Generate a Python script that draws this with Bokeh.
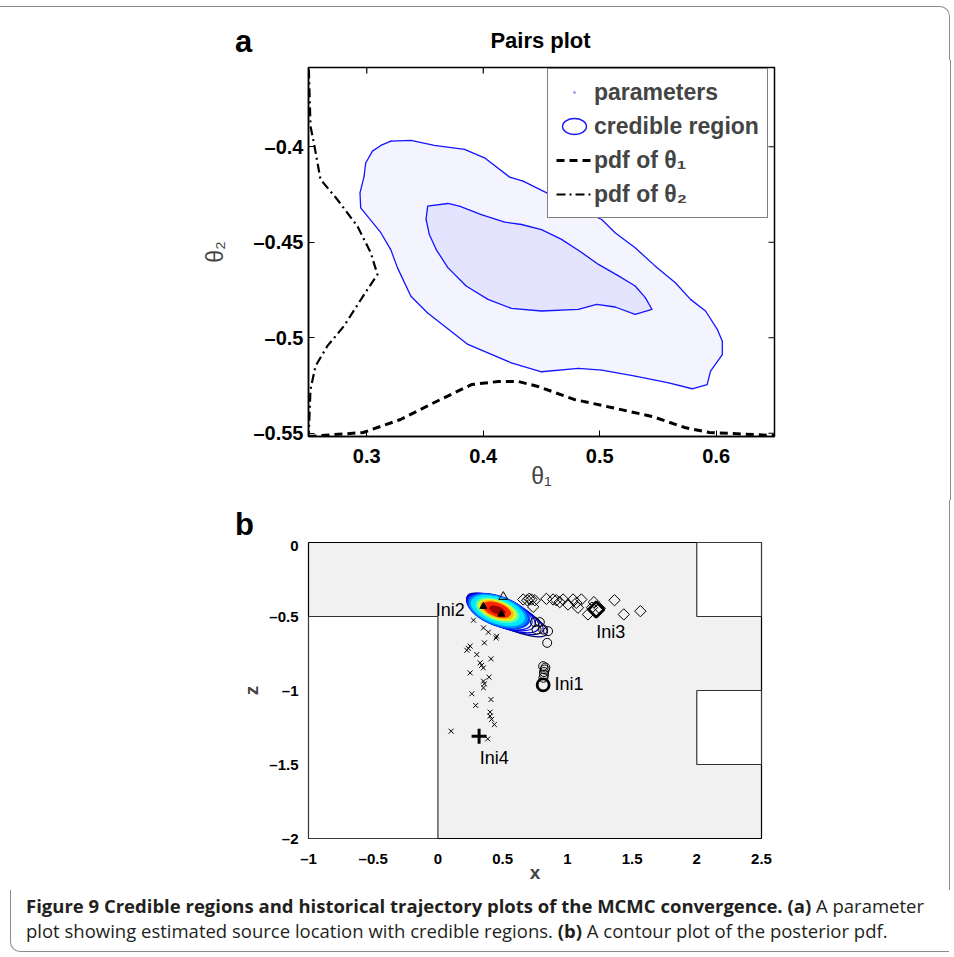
from bokeh.plotting import figure
from bokeh.models import FixedTicker, Legend, LegendItem, Div, Spacer
from bokeh.layouts import column, row
from bokeh.embed import file_html
from bokeh.resources import INLINE
from bokeh.core.properties import value

# ---------------- panel a : data ----------------
a_xrange = (0.25, 0.65)
a_yrange = (-0.5517, -0.3585)
a_xticks = [0.3, 0.4, 0.5, 0.6]
a_xtick_labels = ["0.3", "0.4", "0.5", "0.6"]
a_yticks = [-0.55, -0.5, -0.45, -0.4]
a_ytick_labels = ["\u20130.55", "\u20130.5", "\u20130.45", "\u20130.4"]

outer_t1 = [0.3207, 0.3379, 0.358, 0.3839, 0.4011, 0.4227, 0.4342, 0.4558, 0.473, 0.5017,
            0.5132, 0.5304, 0.5477, 0.5649, 0.5779, 0.5908, 0.6009, 0.6052, 0.6052, 0.5951,
            0.5922, 0.5793, 0.5592, 0.5304, 0.5017, 0.4816, 0.45, 0.4241, 0.3868, 0.3523,
            0.3379, 0.3264, 0.3207, 0.3121, 0.2948, 0.2942, 0.2977, 0.2991, 0.3049, 0.3121]
outer_t2 = [-0.3971, -0.3967, -0.3993, -0.4014, -0.4058, -0.4159, -0.418, -0.4245, -0.4302, -0.4381,
            -0.4450, -0.4529, -0.4625, -0.4712, -0.4799, -0.4860, -0.4956, -0.5018, -0.5088, -0.5175,
            -0.5245, -0.5267, -0.5236, -0.5201, -0.5169, -0.5160, -0.5178, -0.5131, -0.5035, -0.4870,
            -0.4783, -0.4634, -0.4540, -0.4450, -0.4320, -0.4241, -0.4155, -0.4085, -0.4023, -0.3993]

inner_t1 = [0.3523, 0.3696, 0.3796, 0.3983, 0.4184, 0.4328, 0.45, 0.4672, 0.4845, 0.4989,
            0.5161, 0.5304, 0.5391, 0.5448, 0.5304, 0.5132, 0.4974, 0.4816, 0.45, 0.4241,
            0.404, 0.3853, 0.3696, 0.3595, 0.3537, 0.3509]
inner_t2 = [-0.4311, -0.4297, -0.4311, -0.4355, -0.4395, -0.4407, -0.4434, -0.4485, -0.4554, -0.4616,
            -0.4676, -0.4729, -0.4790, -0.4851, -0.4877, -0.4839, -0.4825, -0.4851, -0.4860, -0.4846,
            -0.4799, -0.4729, -0.4633, -0.4537, -0.4459, -0.4380]

pdf1_t1 = [0.25, 0.297, 0.329, 0.358, 0.390, 0.413, 0.430, 0.447, 0.478, 0.510, 0.545, 0.573, 0.594, 0.651]
pdf1_t2 = [-0.5517, -0.5496, -0.5428, -0.5339, -0.5245, -0.5229, -0.5229, -0.5255, -0.5323, -0.5365,
           -0.5412, -0.5470, -0.5496, -0.5512]

pdf2_t1 = [0.2503, 0.2517, 0.2546, 0.2603, 0.2747, 0.292, 0.3034, 0.3092, 0.3006, 0.2804,
           0.2661, 0.256, 0.2517, 0.2503, 0.25]
pdf2_t2 = [-0.3595, -0.3892, -0.3979, -0.4171, -0.4276, -0.4416, -0.4555, -0.4669, -0.4747, -0.4939,
           -0.5044, -0.5149, -0.5271, -0.5496, -0.5517]

legend_labels = ["parameters", "credible region", "pdf of \u03b8\u2081", "pdf of \u03b8\u2082"]

# ---------------- panel b : data ----------------
b_xrange = (-1, 2.5)
b_yrange = (-2, 0)
b_xticks = [-1, -0.5, 0, 0.5, 1, 1.5, 2, 2.5]
b_xtick_labels = ["\u20131", "\u20130.5", "0", "0.5", "1", "1.5", "2", "2.5"]
b_yticks = [-2, -1.5, -1, -0.5, 0]
b_ytick_labels = ["\u20132", "\u20131.5", "\u20131", "\u20130.5", "0"]

wall_left = [-1, 2, 2]
wall_right = [0, 2.5, 2.5]
wall_bottom = [-2, -0.5, -1.5]
wall_top = [-0.5, 0, -1]

# posterior pdf contours (jet colours): outer unfilled levels
cl_x = [0.535, 0.518, 0.502, 0.488, 0.477]
cl_z = [-0.49, -0.483, -0.477, -0.471, -0.467]
cl_w = [0.68, 0.64, 0.60, 0.56, 0.53]
cl_h = [0.165, 0.175, 0.185, 0.19, 0.195]
cl_ang = [-0.44, -0.42, -0.40, -0.38, -0.37]
cl_col = ["#00007f", "#0000a8", "#0000d0", "#0000f0", "#0010ff"]
# inner filled levels
cf_x = [0.47, 0.466, 0.463, 0.46, 0.458, 0.456, 0.455, 0.458]
cf_z = [-0.464, -0.462, -0.46, -0.458, -0.456, -0.455, -0.454, -0.457]
cf_w = [0.50, 0.47, 0.43, 0.35, 0.31, 0.27, 0.225, 0.125]
cf_h = [0.20, 0.19, 0.172, 0.14, 0.122, 0.105, 0.088, 0.047]
cf_col = ["#0040ff", "#0090ff", "#00e8ff", "#50ffb0", "#d0ff30", "#ffc000", "#ff2800", "#a00000"]
cf_ang = -0.34

# chain 1 (circles)
c1_x = [0.813, 0.826, 0.82, 0.82, 0.815, 0.83, 0.844, 0.851, 0.813, 0.762, 0.787, 0.749]
c1_z = [-0.836, -0.858, -0.875, -0.892, -0.914, -0.845, -0.678, -0.599, -0.588, -0.588, -0.538, -0.538]
c1_start_x = [0.813]
c1_start_z = [-0.962]
# chain 2 (triangles)
c2_x = [0.505]
c2_z = [-0.367]
c2f_x = [0.351, 0.49]
c2f_z = [-0.432, -0.484]
# chain 3 (diamonds)
c3_x = [0.659, 0.69, 0.705, 0.723, 0.749, 0.736, 0.838, 0.890, 0.915, 0.941, 0.967, 1.005,
        1.044, 1.069, 1.108, 1.082, 1.159, 1.19, 1.205, 1.25, 1.364, 1.436, 1.564]
c3_z = [-0.385, -0.39, -0.38, -0.385, -0.390, -0.435, -0.381, -0.385, -0.390, -0.403, -0.385, -0.419,
        -0.385, -0.408, -0.385, -0.441, -0.486, -0.44, -0.403, -0.445, -0.390, -0.486, -0.464]
c3_start_x = [1.223]
c3_start_z = [-0.453]
# chain 4 (crosses)
c4_x = [0.275, 0.352, 0.39, 0.454, 0.449, 0.359, 0.249, 0.223, 0.236, 0.300, 0.410, 0.326, 0.338,
        0.351, 0.249, 0.395, 0.352, 0.359, 0.352, 0.262, 0.410, 0.292, 0.403, 0.403, 0.415, 0.436,
        0.102, 0.385]
c4_z = [-0.525, -0.577, -0.606, -0.633, -0.645, -0.678, -0.700, -0.728, -0.715, -0.757, -0.786, -0.813,
        -0.830, -0.847, -0.881, -0.910, -0.937, -0.955, -0.982, -1.022, -1.061, -1.101, -1.146, -1.173,
        -1.195, -1.230, -1.275, -1.327]
c4_start_x = [0.318]
c4_start_z = [-1.309]

ini_text = ["Ini1", "Ini3", "Ini4"]
ini_x = [0.9, 1.223, 0.323]
ini_z = [-0.959, -0.608, -1.453]
ini2_text = ["Ini2"]
ini2_x = [0.208]
ini2_z = [-0.453]

FONT = "Liberation Sans"
BORDER = "1px solid #8c8c8c"

A_FRAME_W, A_FRAME_H = 465, 369


def style_axis(ax, size, ticks, labels):
    ax.ticker = FixedTicker(ticks=ticks)
    ax.major_label_overrides = {t: l for t, l in zip(ticks, labels)}
    ax.major_label_text_font = FONT
    ax.major_label_text_font_size = size
    ax.major_label_text_font_style = "bold"
    ax.major_label_text_color = "black"
    ax.minor_tick_line_color = None


# ---------------- panel a ----------------
header_a = Div(width=950, height=54, margin=0,
               styles={"border-top": BORDER, "border-right": BORDER, "border-top-right-radius": "10px"},
               text=('<div style="position:relative;width:950px;height:54px;">'
                     '<span style="position:absolute;left:235px;top:19px;font-family:\'Liberation Sans\';'
                     'font-weight:bold;font-size:31px;line-height:1;color:#000;">a</span>'
                     '<span style="position:absolute;left:440px;width:201px;top:23px;text-align:center;'
                     'font-family:\'Liberation Sans\';font-weight:bold;font-size:22px;line-height:1;'
                     'color:#000;">Pairs plot</span></div>'))

pa = figure(frame_width=A_FRAME_W, frame_height=A_FRAME_H, x_range=a_xrange, y_range=a_yrange,
            output_backend="svg", toolbar_location=None, margin=0,
            min_border_left=308, min_border_right=177, min_border_top=7, min_border_bottom=64,
            styles={"border-right": BORDER})
pa.grid.visible = False
pa.outline_line_color = "black"
pa.outline_line_width = 1.5

pa.patch(outer_t1, outer_t2, fill_color="#2020ff", fill_alpha=0.05, line_color=None)
pa.patch(inner_t1, inner_t2, fill_color="#2020ff", fill_alpha=0.07, line_color=None)
r_par = pa.scatter(outer_t1 + inner_t1, outer_t2 + inner_t2, marker="dot", size=5,
                   color="#4040ff", alpha=0.5)
pa.patch(outer_t1, outer_t2, fill_color=None, line_color="#1414ff", line_width=1.3)
pa.patch(inner_t1, inner_t2, fill_color=None, line_color="#1414ff", line_width=1.3)
# legend glyph for the credible region (sub-pixel in the plot itself)
r_cred = pa.ellipse(x=outer_t1[:1], y=outer_t2[:1], width=0.3, height=0.2,
                    width_units="screen", height_units="screen",
                    fill_color=None, line_color="#1414ff", line_width=1.3)
r_pdf1 = pa.line(pdf1_t1, pdf1_t2, line_color="black", line_width=3, line_dash="8 5")
r_pdf2 = pa.line(pdf2_t1, pdf2_t2, line_color="black", line_width=2.2, line_dash="9 4 2 4")

# inner ticks on the top and right edges
tick_dy = 6 * (a_yrange[1] - a_yrange[0]) / A_FRAME_H
tick_dx = 6 * (a_xrange[1] - a_xrange[0]) / A_FRAME_W
pa.segment(x0=a_xticks, y0=[a_yrange[1]] * len(a_xticks), x1=a_xticks,
           y1=[a_yrange[1] - tick_dy] * len(a_xticks), line_color="black", line_width=1.2)
pa.segment(x0=[a_xrange[1]] * len(a_yticks), y0=a_yticks, x1=[a_xrange[1] - tick_dx] * len(a_yticks),
           y1=a_yticks, line_color="black", line_width=1.2)

for ax in pa.xaxis:
    style_axis(ax, "20px", a_xticks, a_xtick_labels)
    ax.major_tick_in = 6
    ax.major_tick_out = 0
    ax.major_label_standoff = 12
    ax.axis_label = "\u03b8\u2081"
    ax.axis_label_text_font = FONT
    ax.axis_label_text_font_size = "23px"
    ax.axis_label_text_font_style = "normal"
    ax.axis_label_standoff = -3
    ax.axis_line_width = 1.5
for ax in pa.yaxis:
    style_axis(ax, "20px", a_yticks, a_ytick_labels)
    ax.major_tick_in = 6
    ax.major_tick_out = 0
    ax.major_label_standoff = 5
    ax.axis_label = "\u03b8\u2082"
    ax.axis_label_text_font = FONT
    ax.axis_label_text_font_size = "23px"
    ax.axis_label_text_font_style = "normal"
    ax.axis_label_standoff = 22
    ax.axis_line_width = 1.5

legend = Legend(items=[LegendItem(label=legend_labels[0], renderers=[r_par]),
                       LegendItem(label=legend_labels[1], renderers=[r_cred]),
                       LegendItem(label=legend_labels[2], renderers=[r_pdf1]),
                       LegendItem(label=legend_labels[3], renderers=[r_pdf2])],
                location=(239, 218), glyph_width=36, glyph_height=30, label_height=28,
                spacing=4, padding=8, label_standoff=2, margin=0,
                label_text_font=FONT, label_text_font_size="23px", label_text_font_style="bold",
                border_line_color="black", border_line_width=1.2, background_fill_alpha=1)
pa.add_layout(legend)

# ---------------- panel b ----------------
header_b = Div(width=950, height=36, margin=0, styles={"border-right": BORDER},
               text=('<div style="position:relative;width:950px;height:36px;">'
                     '<span style="position:absolute;left:235px;top:9px;font-family:\'Liberation Sans\';'
                     'font-weight:bold;font-size:31px;line-height:1;color:#000;">b</span></div>'))

pb = figure(width=950, height=354, x_range=b_xrange, y_range=b_yrange,
            output_backend="svg", toolbar_location=None, margin=0,
            min_border_left=306, min_border_right=189, min_border_top=6, min_border_bottom=52,
            background_fill_color="#f1f1f1",
            styles={"border-right": BORDER})
pb.grid.visible = False
pb.outline_line_color = "black"
pb.outline_line_width = 1.2

pb.quad(left=wall_left, right=wall_right, bottom=wall_bottom, top=wall_top,
        fill_color="white", line_color="#333333", line_width=1.2)

pb.ellipse(x=cl_x, y=cl_z, width=cl_w, height=cl_h, angle=cl_ang,
           fill_color=None, line_color=cl_col, line_width=1.2)
pb.ellipse(x=cf_x, y=cf_z, width=cf_w, height=cf_h, angle=cf_ang,
           fill_color=cf_col, line_color=cf_col, line_width=1)

pb.scatter(c4_x, c4_z, marker="x", size=7, line_color="black", line_width=1)
pb.scatter(c3_x, c3_z, marker="square", angle=0.785, size=8, fill_color=None,
           line_color="black", line_width=1)
pb.scatter(c1_x, c1_z, marker="circle", size=9, fill_color=None, line_color="black", line_width=1)
pb.scatter(c2_x, c2_z, marker="triangle", size=9, fill_color=None, line_color="black", line_width=1)
pb.scatter(c2f_x, c2f_z, marker="triangle", size=7, fill_color="black", line_color="black")
pb.scatter(c1_start_x, c1_start_z, marker="circle", size=12, fill_color=None,
           line_color="black", line_width=2.8)
pb.scatter(c3_start_x, c3_start_z, marker="square", angle=0.785, size=11, fill_color=None,
           line_color="black", line_width=2.8)
pb.scatter(c4_start_x, c4_start_z, marker="cross", size=15, line_color="black", line_width=3)

pb.text(x=ini_x, y=ini_z, text=ini_text, text_font=value(FONT), text_font_size="18px",
        text_align="left", text_baseline="middle", text_color="black")
pb.text(x=ini2_x, y=ini2_z, text=ini2_text, text_font=value(FONT), text_font_size="18px",
        text_align="right", text_baseline="middle", text_color="black")

for ax in pb.xaxis:
    style_axis(ax, "15px", b_xticks, b_xtick_labels)
    ax.major_tick_line_color = None
    ax.axis_line_color = None
    ax.major_label_standoff = 5
    ax.axis_label = "x"
    ax.axis_label_text_font = FONT
    ax.axis_label_text_font_size = "19px"
    ax.axis_label_text_font_style = "bold"
    ax.axis_label_standoff = -8
for ax in pb.yaxis:
    style_axis(ax, "15px", b_yticks, b_ytick_labels)
    ax.major_tick_line_color = None
    ax.axis_line_color = None
    ax.major_label_standoff = 4
    ax.axis_label = "z"
    ax.axis_label_text_font = FONT
    ax.axis_label_text_font_size = "19px"
    ax.axis_label_text_font_style = "bold"
    ax.axis_label_standoff = 4

# ---------------- caption ----------------
cap_html = ('<div style="font-family: \'Open Sans\', sans-serif; font-size: 18.5px; line-height: 25px; '
            'color: #231f20; padding-left: 15px; padding-top: 3px; white-space: nowrap;">'
            '<b>Figure 9 Credible regions and historical trajectory plots of the MCMC convergence. '
            '(a)</b> A parameter<br>plot showing estimated source location with credible regions. '
            '<b>(b)</b> A contour plot of the posterior pdf.</div>')
cap = Div(text=cap_html, width=939, height=62, margin=0,
          styles={"border-left": BORDER, "border-bottom": BORDER, "border-bottom-left-radius": "10px"})

root = column(Spacer(width=950, height=6, margin=0), header_a, pa, header_b, pb,
              row(Spacer(width=10, height=62, margin=0), cap, margin=0), margin=0)

open("out.html", "w").write(file_html(root, INLINE))
